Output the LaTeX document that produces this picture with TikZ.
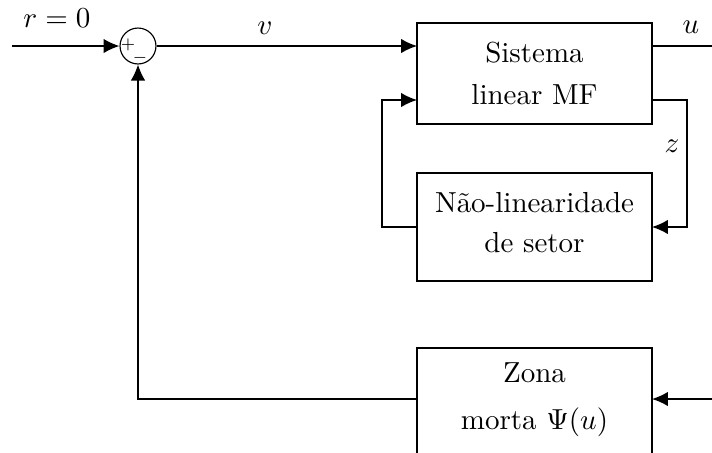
\documentclass[tikz,border=0pt]{standalone}
\usetikzlibrary{arrows.meta}
\begin{document}
\begin{tikzpicture}[x=0.345pt,y=-0.345pt,
  line width=0.5pt,
  blockbox/.style={draw,line width=0.5pt,align=center,inner sep=2pt,minimum width=81.1pt},
  sumnode/.style={draw,circle,line width=0.4pt,minimum size=12.4pt,inner sep=0pt},
  arr/.style={-{Latex[length=5.5pt,width=5pt]}},
  lbl/.style={inner sep=0pt}]
\useasboundingbox (0,0) rectangle (712,452);
% nodes
\node[sumnode] (sum) at (138,46) {};
\node[font=\tiny,inner sep=0pt] (plus) at (128,45) {$+$};
\node[font=\tiny,inner sep=0pt] (minus) at (140,58) {$-$};
\node[blockbox,minimum height=34.8pt] (sys) at (534.5,73.5) {Sistema\\[2.5pt]linear MF};
\node[blockbox,minimum height=37.3pt] (nl) at (534.5,227) {Não-linearidade\\[1.8pt]de setor\rule[-3pt]{0pt}{0pt}};
\node[blockbox,minimum height=38pt] (dz) at (534.5,403) {Zona\\[4.2pt]morta $\Psi(u)$\rule[-5pt]{0pt}{0pt}};
% coordinates
\coordinate (in) at (12,46);
\coordinate (sysin1) at (417,46);
\coordinate (sysin2) at (417,100);
\coordinate (sysout1) at (652,46);
\coordinate (sysout2) at (652,100);
\coordinate (uend) at (712,46);
\coordinate (zr) at (687,100);
\coordinate (zb) at (687,227);
\coordinate (nlr) at (652,227);
\coordinate (nll) at (417,227);
\coordinate (fbl) at (382,227);
\coordinate (fbt) at (382,100);
\coordinate (dzin) at (712,399);
\coordinate (dzr) at (652,399);
\coordinate (dzlft) at (417,399);
\coordinate (dzl) at (138,399);
% labels
\node[lbl] (rlbl) at (57,18) {$r=0$};
\node[lbl] (vlbl) at (265,28) {$v$};
\node[lbl] (ulbl) at (691,27) {$u$};
\node[lbl] (zlbl) at (672,146) {$z$};
% connectors
\draw[arr] (in) -- (sum.west);
\draw[arr] (sum.east) -- (sysin1);
\draw (sysout1) -- (uend);
\draw[arr] (sysout2) -- (zr) -- (zb) -- (nlr);
\draw[arr] (nll) -- (fbl) -- (fbt) -- (sysin2);
\draw[arr] (dzin) -- (dzr);
\draw[arr] (dzlft) -- (dzl) -- (sum.south);
\end{tikzpicture}
\end{document}
